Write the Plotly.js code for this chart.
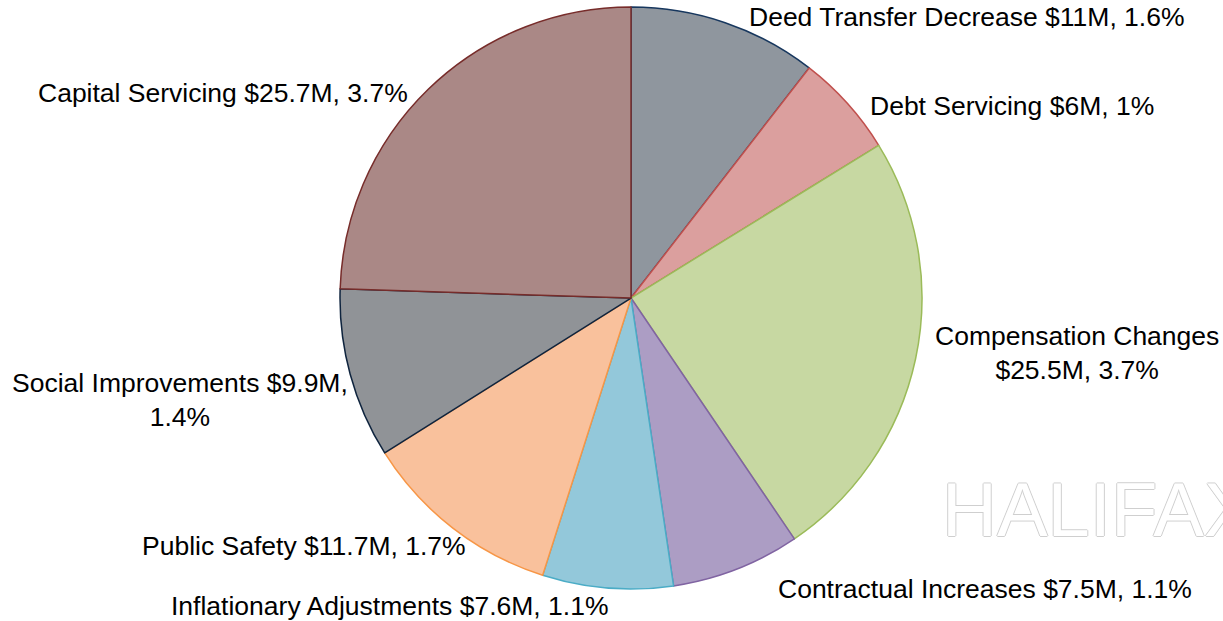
<!DOCTYPE html>
<html>
<head>
<meta charset="utf-8">
<script src="https://cdn.plot.ly/plotly-3.0.1.min.js"></script>
<style>
  html, body { margin: 0; padding: 0; background: #fff; }
  #chart { width: 1223px; height: 621px; }
</style>
</head>
<body>
<div id="chart"></div>
<script>
var categories = ['Deed Transfer Decrease', 'Debt Servicing', 'Compensation Changes',
  'Contractual Increases', 'Inflationary Adjustments', 'Public Safety',
  'Social Improvements', 'Capital Servicing'];
var amounts = [11, 6, 25.5, 7.5, 7.6, 11.7, 9.9, 25.7];
var amountLabels = ['$11M', '$6M', '$25.5M', '$7.5M', '$7.6M', '$11.7M', '$9.9M', '$25.7M'];
var percentLabels = ['1.6%', '1%', '3.7%', '1.1%', '1.1%', '1.7%', '1.4%', '3.7%'];

var fillColors = ['#8f969e', '#db9f9e', '#c7d8a2', '#ac9dc4', '#93c8da', '#f9c19c', '#909397', '#aa8886'];
var lineColors = ['#17375e', '#c0504d', '#9bbb59', '#8064a2', '#4bacc6', '#f79646', '#0f243e', '#772c2a'];

// where each label sits (pixel centre), and where a line break goes
var labelPx = [[967, 17], [1012, 106], [1077, 353], [985, 589], [390, 606], [304, 546], [180, 400], [223, 93]];
var breakAfterName = [false, false, true, false, false, false, false, false];
var breakBeforePct = [false, false, false, false, false, false, true, false];

var W = 1223, H = 621;

var trace = {
  type: 'pie',
  labels: categories,
  values: amounts,
  sort: false,
  direction: 'clockwise',
  rotation: 0,
  textinfo: 'none',
  hoverinfo: 'label+value',
  marker: { colors: fillColors, line: { color: lineColors, width: 1.5 } },
  domain: { x: [0.278, 0.7539], y: [0.0515, 0.9887] },
  showlegend: false
};

var annotations = categories.map(function (c, i) {
  var t = c + (breakAfterName[i] ? '<br>' : ' ') + amountLabels[i] + ',' +
    (breakBeforePct[i] ? '<br>' : ' ') + percentLabels[i];
  return {
    text: t,
    x: labelPx[i][0] / W,
    y: 1 - labelPx[i][1] / H,
    xref: 'paper', yref: 'paper',
    xanchor: 'center', yanchor: 'middle',
    showarrow: false,
    align: 'center',
    font: { family: 'Liberation Sans, Arial, sans-serif', size: 26.5, color: '#000' }
  };
});

// faint watermark
annotations.push({
  text: 'HALIFAX',
  x: 940 / W, y: 1 - 509 / H,
  xref: 'paper', yref: 'paper',
  xanchor: 'left', yanchor: 'middle',
  showarrow: false,
  font: { family: 'Liberation Sans, Arial, sans-serif', size: 76, color: '#ffffff',
    shadow: '1px 0 0 #cfcfcf, -1px 0 0 #cfcfcf, 0 1px 0 #cfcfcf, 0 -1px 0 #cfcfcf' }
});

var layout = {
  width: W,
  height: H,
  margin: { l: 0, r: 0, t: 0, b: 0 },
  paper_bgcolor: '#ffffff',
  annotations: annotations
};

Plotly.newPlot('chart', [trace], layout, { displayModeBar: false, staticPlot: true });
</script>
</body>
</html>
